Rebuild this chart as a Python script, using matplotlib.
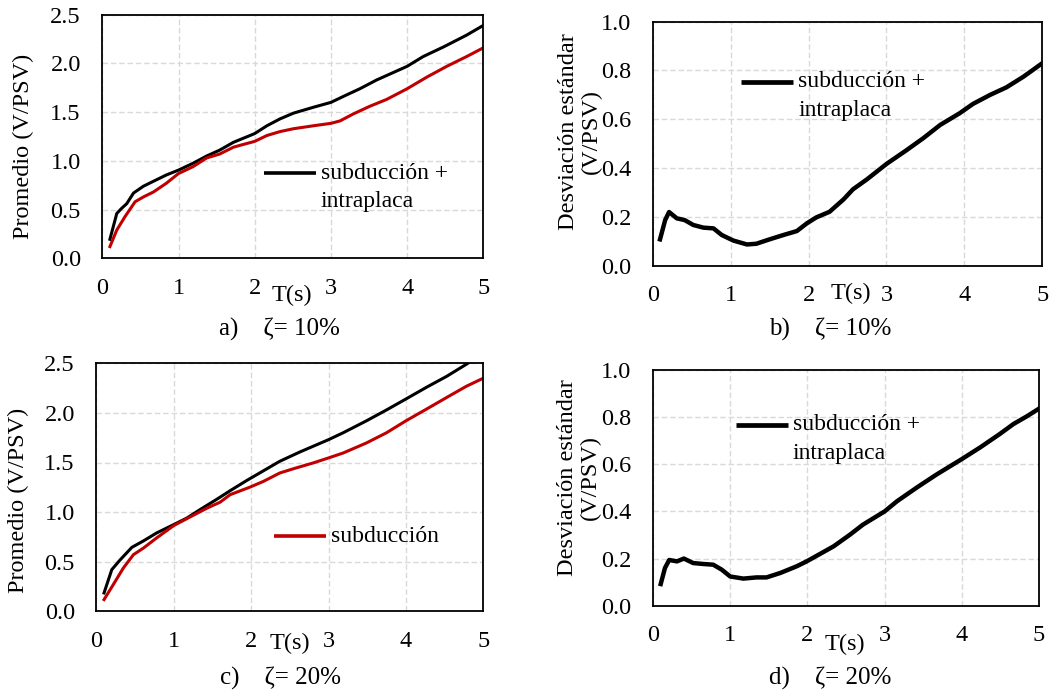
#!/usr/bin/env python3

import matplotlib
matplotlib.use("Agg")
import matplotlib.pyplot as plt

# periodo T(s)
# a) promedio, zeta = 10%
t_a_mix = [0.1, 0.19, 0.25, 0.32, 0.41, 0.54, 0.67, 0.84, 1.0, 1.19, 1.37, 1.54, 1.72,
           2.0, 2.16, 2.33, 2.51, 2.77, 3.0, 3.16, 3.38, 3.6, 4.0, 4.21, 4.48, 4.78, 5.0]
prom_a_mix = [0.195, 0.46, 0.51, 0.56, 0.67, 0.74, 0.79, 0.855, 0.905, 0.975, 1.05, 1.11, 1.19,
              1.28, 1.36, 1.43, 1.49, 1.55, 1.60, 1.66, 1.74, 1.83, 1.97, 2.07, 2.17, 2.29, 2.39]
t_a_sub = [0.1, 0.19, 0.3, 0.43, 0.54, 0.67, 0.84, 1.0, 1.19, 1.37, 1.54, 1.72, 1.81, 2.0,
           2.16, 2.33, 2.51, 2.77, 3.0, 3.12, 3.29, 3.51, 3.73, 4.0, 4.26, 4.52, 4.78, 5.0]
prom_a_sub = [0.12, 0.29, 0.43, 0.58, 0.63, 0.68, 0.77, 0.87, 0.94, 1.03, 1.07, 1.14, 1.16, 1.20,
              1.26, 1.30, 1.33, 1.36, 1.385, 1.41, 1.48, 1.56, 1.63, 1.74, 1.86, 1.97, 2.07, 2.16]

# b) desviacion estandar, zeta = 10%
t_b = [0.094, 0.16, 0.21, 0.31, 0.41, 0.52, 0.65, 0.78, 0.885, 1.035, 1.21, 1.33, 1.5, 1.68,
       1.85, 1.98, 2.1, 2.27, 2.45, 2.57, 2.75, 3.0, 3.26, 3.47, 3.69, 3.94, 4.11, 4.33, 4.54,
       4.76, 5.0]
desv_b = [0.108, 0.187, 0.22, 0.194, 0.187, 0.167, 0.156, 0.153, 0.126, 0.103, 0.087, 0.09,
          0.108, 0.126, 0.142, 0.174, 0.198, 0.221, 0.272, 0.313, 0.354, 0.417, 0.474, 0.522,
          0.577, 0.625, 0.663, 0.70, 0.731, 0.775, 0.83]

# c) promedio, zeta = 20%
t_c_mix = [0.1, 0.2, 0.31, 0.46, 0.61, 0.78, 1.0, 1.17, 1.34, 1.55, 1.73, 1.94, 2.11, 2.37,
           2.63, 3.0, 3.19, 3.49, 3.75, 4.0, 4.27, 4.53, 4.78, 5.0]
prom_c_mix = [0.185, 0.42, 0.52, 0.645, 0.71, 0.79, 0.874, 0.94, 1.025, 1.126, 1.216, 1.317,
              1.394, 1.512, 1.606, 1.73, 1.80, 1.92, 2.03, 2.14, 2.26, 2.37, 2.49, 2.60]
t_c_sub = [0.1, 0.22, 0.35, 0.48, 0.61, 0.78, 1.0, 1.17, 1.43, 1.6, 1.73, 1.98, 2.16, 2.37,
           2.55, 2.8, 3.0, 3.19, 3.49, 3.75, 4.0, 4.27, 4.53, 4.78, 5.0]
prom_c_sub = [0.118, 0.27, 0.437, 0.571, 0.638, 0.74, 0.864, 0.934, 1.04, 1.10, 1.176, 1.25,
              1.31, 1.394, 1.438, 1.495, 1.546, 1.596, 1.697, 1.80, 1.92, 2.04, 2.157, 2.268, 2.35]

# d) desviacion estandar, zeta = 20%
t_d = [0.1, 0.155, 0.21, 0.31, 0.4, 0.52, 0.65, 0.78, 0.89, 1.0, 1.17, 1.34, 1.47, 1.65,
       1.86, 1.99, 2.16, 2.34, 2.55, 2.72, 3.0, 3.16, 3.42, 3.67, 4.0, 4.24, 4.49, 4.67, 4.84,
       5.0]
desv_d = [0.092, 0.16, 0.194, 0.188, 0.2, 0.181, 0.177, 0.174, 0.153, 0.124, 0.115, 0.12,
          0.12, 0.139, 0.167, 0.188, 0.219, 0.252, 0.301, 0.344, 0.40, 0.443, 0.502, 0.556,
          0.622, 0.672, 0.728, 0.771, 0.803, 0.836]

lbl_mix = "subducción +\nintraplaca"
lbl_sub = "subducción"
RED = "#c00000"

W, H = 1062, 696
plt.rcParams["font.family"] = ["Liberation Serif", "DejaVu Serif"]
plt.rcParams["font.size"] = 17.5


def add_axes(fig, left, right, top, bottom):
    # pixel box -> figure fraction
    return fig.add_axes([left / W, 1 - bottom / H, (right - left) / W, (bottom - top) / H])


def style_axes(ax, ymax, ystep):
    ax.set_xlim(0, 5)
    ax.set_ylim(0, ymax)
    ax.set_xticks(range(6))
    n = int(round(ymax / ystep))
    ax.set_yticks([i * ystep for i in range(n + 1)])
    ax.set_yticklabels([f"{i * ystep:.1f}" for i in range(n + 1)])
    ax.grid(True, color="#d9d9d9", linestyle=(0, (4, 2)), linewidth=1)
    ax.set_axisbelow(True)
    ax.tick_params(axis="x", length=0, pad=14, labelsize=17.5)
    ax.tick_params(axis="y", length=0, pad=15.5, labelsize=17.5)
    for sp in ax.spines.values():
        sp.set_linewidth(1.3)
        sp.set_color("black")


def key(ax, x0, x1, y, color, lw, text, y2=None):
    ax.plot([x0, x1], [y, y], color=color, lw=lw, transform=ax.transAxes,
            solid_capstyle="butt", clip_on=False)
    lines = text.split("\n")
    ax.text(x1 + 0.012, y, lines[0], transform=ax.transAxes, ha="left", va="center",
            fontsize=17)
    if len(lines) > 1:
        ax.text(x1 + 0.012, y2, lines[1], transform=ax.transAxes, ha="left", va="center",
                fontsize=17)


def labels(ax, ylab, ylab_xy, ts_xy, cap, cap_xy):
    ax.text(*ylab_xy, ylab, transform=ax.transAxes, rotation=90, ha="center", va="center",
            multialignment="center", linespacing=1.1, fontsize=17.5)
    ax.text(*ts_xy, "T(s)", transform=ax.transAxes, ha="center", va="center", fontsize=17.5)
    ax.text(*cap_xy, cap, transform=ax.transAxes, ha="center", va="center", fontsize=18)


fig = plt.figure(figsize=(W / 100, H / 100), dpi=100)

# a)
ax = add_axes(fig, 102.3, 483.3, 14.7, 258.3)
style_axes(ax, 2.5, 0.5)
ax.plot(t_a_mix, prom_a_mix, color="black", lw=2.2)
ax.plot(t_a_sub, prom_a_sub, color=RED, lw=2.2)
key(ax, 0.424, 0.561, 0.35, "black", 2.6, lbl_mix, 0.235)
labels(ax, "Promedio (V/PSV)", (-0.207, 0.458), (0.498, -0.151),
       "a)    ζ= 10%", (0.466, -0.294))

# b)
ax = add_axes(fig, 652.7, 1042.3, 21.7, 265.7)
style_axes(ax, 1.0, 0.2)
ax.plot(t_b, desv_b, color="black", lw=3.2)
key(ax, 0.226, 0.361, 0.753, "black", 3.4, lbl_mix, 0.638)
labels(ax, "Desviación estándar\n(V/PSV)", (-0.186, 0.548), (0.509, -0.112),
       "b)    ζ= 10%", (0.456, -0.26))

# c)
ax = add_axes(fig, 96.3, 483.3, 363.3, 611.3)
style_axes(ax, 2.5, 0.5)
ax.plot(t_c_mix, prom_c_mix, color="black", lw=2.2)
ax.plot(t_c_sub, prom_c_sub, color=RED, lw=2.2)
key(ax, 0.459, 0.594, 0.302, RED, 2.6, lbl_sub)
labels(ax, "Promedio (V/PSV)", (-0.2, 0.447), (0.5, -0.128),
       "c)    ζ= 20%", (0.475, -0.269))

# d)
ax = add_axes(fig, 653, 1039, 370, 605.7)
style_axes(ax, 1.0, 0.2)
ax.plot(t_d, desv_d, color="black", lw=3.2)
key(ax, 0.215, 0.35, 0.767, "black", 3.4, lbl_mix, 0.644)
labels(ax, "Desviación estándar\n(V/PSV)", (-0.191, 0.542), (0.497, -0.165),
       "d)    ζ= 20%", (0.459, -0.307))

plt.savefig("out.png", dpi=100)
